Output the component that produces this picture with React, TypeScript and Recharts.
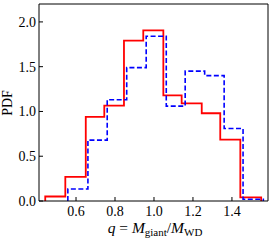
import React from "react";
import { LineChart, Line, XAxis, YAxis } from "recharts";

// bin edges and density values
const redEdges = [0.442, 0.545, 0.65, 0.745, 0.846, 0.945, 1.048, 1.142, 1.245, 1.34, 1.443, 1.55];
const redDensity = [0.05, 0.27, 0.94, 1.066, 1.79, 1.905, 1.18, 1.09, 0.98, 0.686, 0.04];
const blueEdges = [0.558, 0.661, 0.76, 0.86, 0.96, 1.063, 1.16, 1.26, 1.36, 1.457, 1.561];
const blueDensity = [0.134, 0.68, 1.13, 1.49, 1.84, 1.06, 1.45, 1.4, 0.81, 0.02];

const xTicks = [0.6, 0.8, 1.0, 1.2, 1.4];
const yTicks = [0.0, 0.5, 1.0, 1.5, 2.0];

const FONT = "'Liberation Serif', 'Times New Roman', serif";

// outline of a step histogram: up at first edge, across each bin, down at last edge
const stepPoints = (edges: number[], vals: number[]) => {
  const pts: { x: number; y: number }[] = [{ x: edges[0], y: 0 }];
  vals.forEach((v, i) => pts.push({ x: edges[i], y: v }));
  pts.push({ x: edges[edges.length - 1], y: 0 });
  return pts;
};

const redData = stepPoints(redEdges, redDensity);
const blueData = stepPoints(blueEdges, blueDensity);

const tickStyle = { fontFamily: FONT, fontSize: 14, fill: "#000" };

export default function App() {
  return (
    <div style={{ position: "absolute", left: 0, top: 0 }}>
      <LineChart width={274} height={240} margin={{ top: 4, right: 6, left: 0, bottom: 0 }}>
        <XAxis
          xAxisId="b"
          type="number"
          dataKey="x"
          domain={[0.41, 1.585]}
          ticks={xTicks}
          allowDataOverflow
          height={39}
          tickSize={-4}
          tickMargin={9}
          tick={tickStyle}
          tickFormatter={(v) => v.toFixed(1)}
          stroke="#000"
          label={{
            content: () => (
              <text x={155} y={233} textAnchor="middle" fontFamily={FONT} fontSize={15.5} fill="#000">
                <tspan fontStyle="italic">q</tspan>
                <tspan> = </tspan>
                <tspan fontStyle="italic">M</tspan>
                <tspan fontSize={11} dy={3}>giant</tspan>
                <tspan dy={-3}>/</tspan>
                <tspan fontStyle="italic">M</tspan>
                <tspan fontSize={11} dy={3}>WD</tspan>
              </text>
            ),
          }}
        />
        <XAxis
          xAxisId="t"
          orientation="top"
          type="number"
          dataKey="x"
          domain={[0.41, 1.585]}
          ticks={xTicks}
          allowDataOverflow
          mirror
          tick={false}
          tickSize={4}
          stroke="#000"
        />
        <YAxis
          yAxisId="l"
          type="number"
          domain={[0, 2.2]}
          ticks={yTicks}
          allowDataOverflow
          width={39}
          tickSize={-4}
          tickMargin={7}
          tick={tickStyle}
          tickFormatter={(v) => v.toFixed(1)}
          stroke="#000"
          label={{
            content: () => (
              <text
                x={7}
                y={103}
                transform="rotate(-90 7 103)"
                textAnchor="middle"
                dominantBaseline="central"
                fontFamily={FONT}
                fontSize={14}
                fill="#000"
              >
                PDF
              </text>
            ),
          }}
        />
        <YAxis
          yAxisId="r"
          orientation="right"
          type="number"
          domain={[0, 2.2]}
          ticks={yTicks}
          allowDataOverflow
          mirror
          tick={false}
          tickSize={4}
          stroke="#000"
        />
        <Line
          xAxisId="b"
          yAxisId="l"
          data={redData}
          dataKey="y"
          type="stepAfter"
          stroke="#ff0000"
          strokeWidth={1.8}
          dot={false}
          isAnimationActive={false}
        />
        <Line
          xAxisId="b"
          yAxisId="l"
          data={blueData}
          dataKey="y"
          type="stepAfter"
          stroke="#0000ff"
          strokeWidth={1.6}
          strokeDasharray="5 2.5"
          dot={false}
          isAnimationActive={false}
        />
      </LineChart>
    </div>
  );
}
